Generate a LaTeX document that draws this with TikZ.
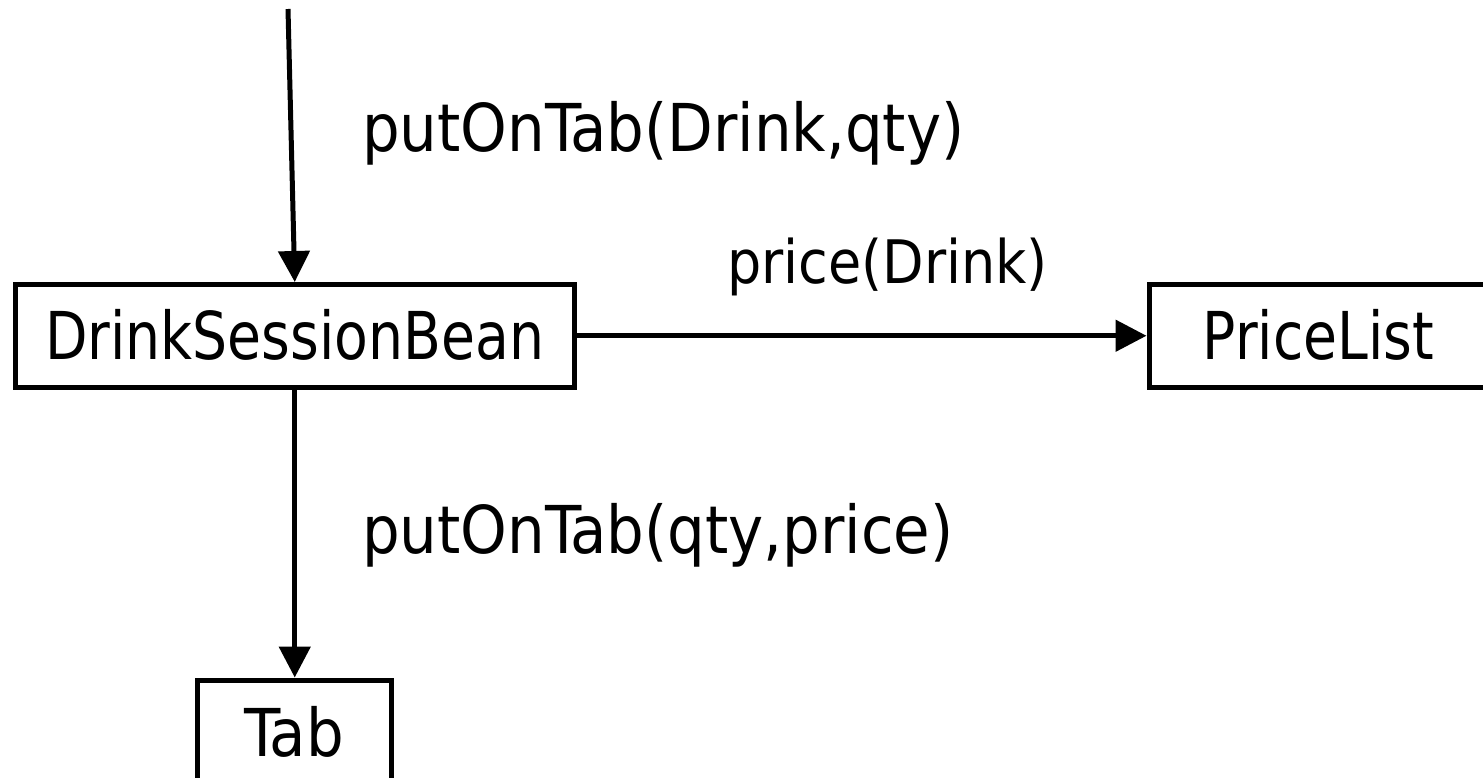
\documentclass[tikz,border=0pt]{standalone}
\usepackage{fontspec}
\setmainfont{DejaVu Sans Condensed}
\newfontfamily\narrowfont[FakeStretch=0.93]{DejaVu Sans Condensed}
\usetikzlibrary{arrows.meta}
\begin{document}
\begin{tikzpicture}[x=1pt,y=-1pt,
  every node/.style={font=\fontsize{66}{79}\selectfont},
  box/.style={draw, line width=5pt, inner sep=0pt, text height=48pt, text depth=0pt},
  narrow/.style={font=\narrowfont\fontsize{66}{79}\selectfont},
  conn/.style={line width=5pt, -{Triangle[length=31pt,width=31pt]}},
  lbl/.style={anchor=base west, inner sep=0pt}]
\useasboundingbox (0,0) rectangle (1483,777);
\node[box, narrow, minimum width=559.5pt, minimum height=102.5pt] (dsb) at (294.75,335.75) {DrinkSessionBean};
\node[box, narrow, minimum width=339pt, minimum height=102.5pt] (pl) at (1318.5,335.75) {PriceList};
\node[box, minimum width=194pt, minimum height=105pt] (tab) at (294,732.5) {Tab};
\coordinate (start) at (288,9);
\draw[conn] (start) -- (dsb.north);
\draw[conn] (dsb.east) -- (pl.west);
\draw[conn] (dsb.south) -- (dsb.south |- tab.north);
\node[lbl] (l1) at (362,151) {putOnTab(Drink,qty)};
\node[lbl, font=\fontsize{60}{72}\selectfont] (l2) at (727,283) {price(Drink)};
\node[lbl] (l3) at (362,553) {putOnTab(qty,price)};
\end{tikzpicture}
\end{document}
